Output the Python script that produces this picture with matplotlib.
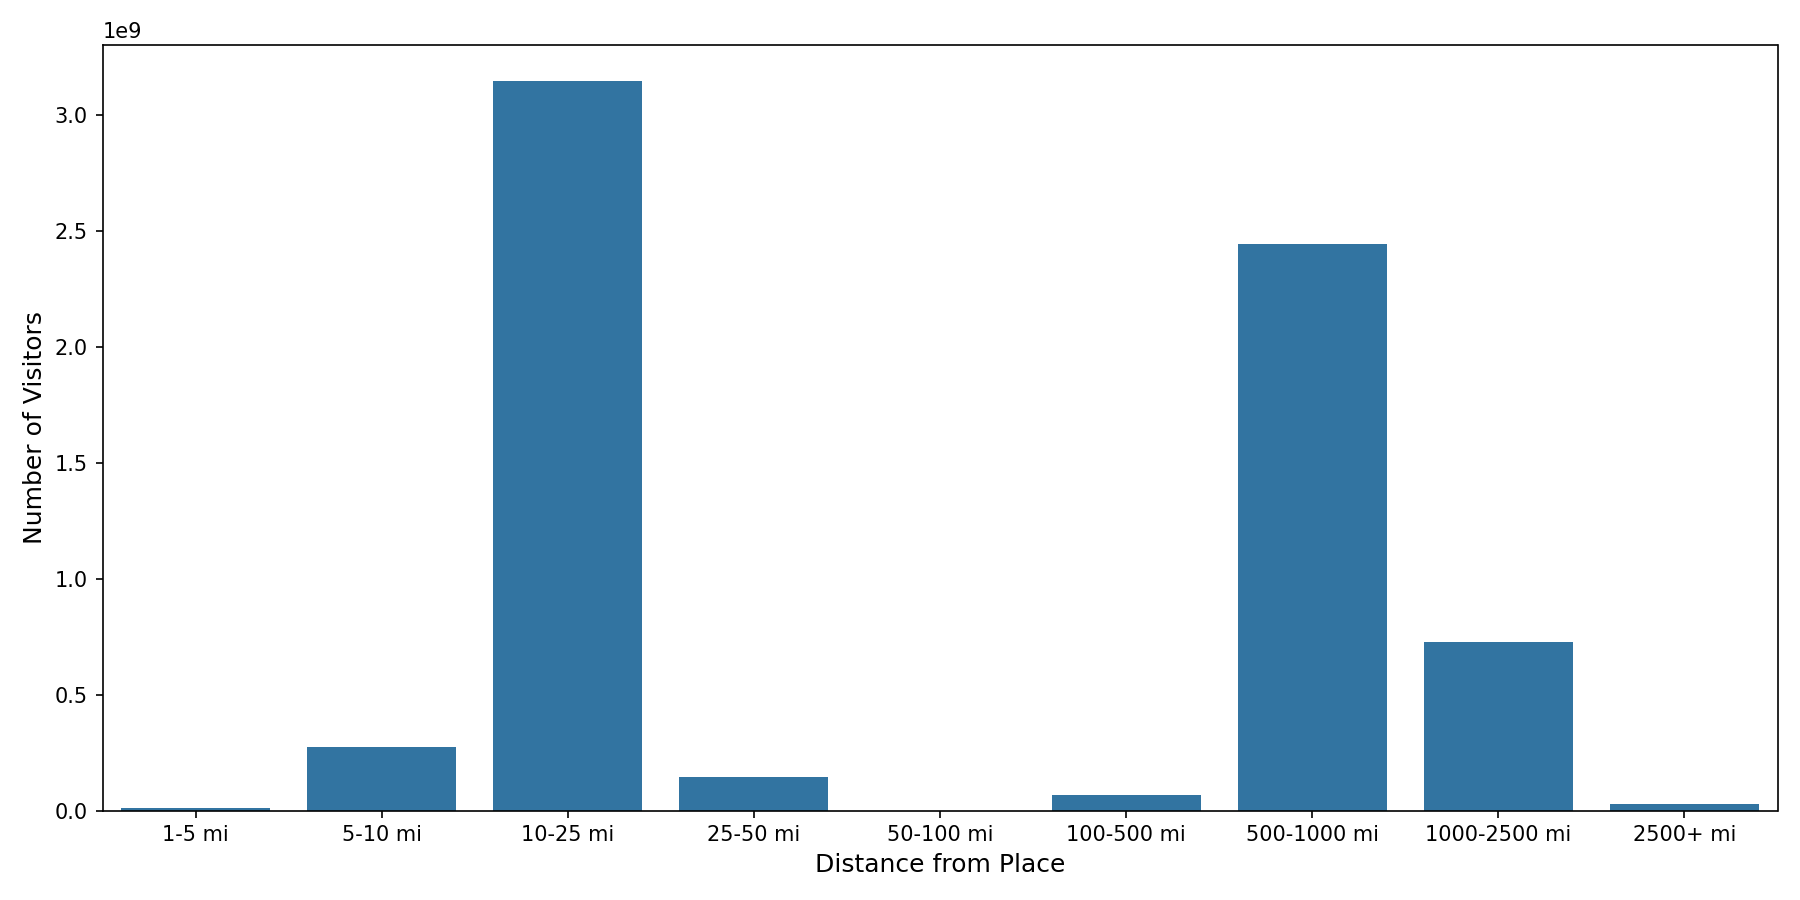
import numpy as np
import matplotlib
matplotlib.use("Agg")
import matplotlib.pyplot as plt

distance_bins = ['1-5 mi', '5-10 mi', '10-25 mi', '25-50 mi', '50-100 mi',
                 '100-500 mi', '500-1000 mi', '1000-2500 mi', '2500+ mi']
visitors = [0.011e9, 0.275e9, 3.147e9, 0.146e9, 0.0,
            0.067e9, 2.443e9, 0.727e9, 0.028e9]

fig, ax = plt.subplots(figsize=(12, 6), dpi=150)
x = np.arange(len(distance_bins))
ax.bar(x, visitors, width=0.8, color='#3274a1')
ax.set_xticks(x)
ax.set_xticklabels(distance_bins)
ax.set_xlim(-0.5, len(distance_bins) - 0.5)
ax.set_xlabel('Distance from Place', fontsize=12)
ax.set_ylabel('Number of Visitors', fontsize=12)
plt.tight_layout()
plt.savefig('out.png')
